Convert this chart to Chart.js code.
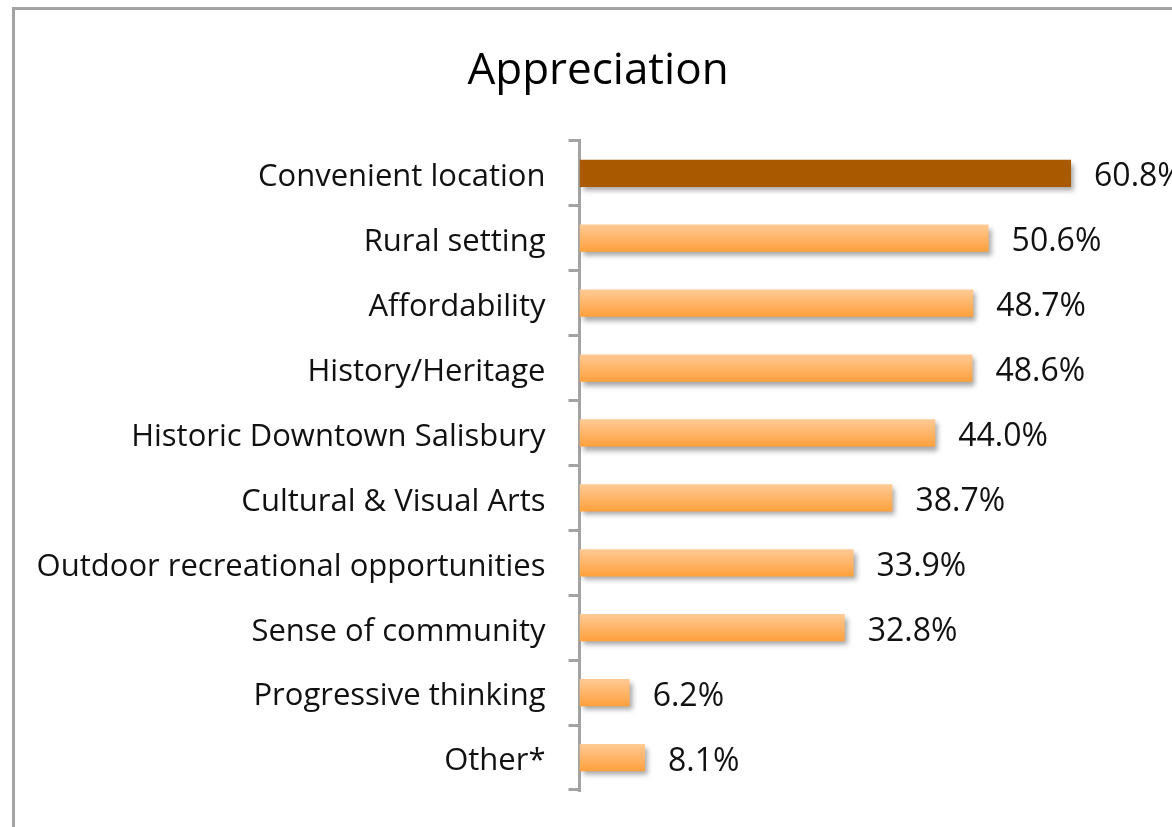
<!DOCTYPE html>
<html>
<head>
<meta charset="utf-8">
<script src="https://cdn.jsdelivr.net/npm/chart.js@4/dist/chart.umd.min.js"></script>
<style>
  html, body { margin: 0; padding: 0; background: #fff; overflow: hidden; }
  #box {
    position: absolute; left: 12px; top: 7px;
    width: 1280px; height: 880px;
    border: 3px solid #a3a3a3;
    background: #fff;
  }
</style>
</head>
<body>
<div id="box"><canvas id="myChart"></canvas></div>
<script>
// data
var categories = [
  "Convenient location",
  "Rural setting",
  "Affordability",
  "History/Heritage",
  "Historic Downtown Salisbury",
  "Cultural & Visual Arts",
  "Outdoor recreational opportunities",
  "Sense of community",
  "Progressive thinking",
  "Other*"
];
var shares = [60.8, 50.6, 48.7, 48.6, 44.0, 38.7, 33.9, 32.8, 6.2, 8.1];
var shareLabels = ["60.8%", "50.6%", "48.7%", "48.6%", "44.0%", "38.7%", "33.9%", "32.8%", "6.2%", "8.1%"];

var FONT = "'Open Sans', Lato, sans-serif";

function barFill(context) {
  var chart = context.chart;
  var y = chart.scales.y;
  if (context.dataIndex === 0) return "#a95a00";
  if (!y || !chart.chartArea) return "#ffa84a";
  var mid = y.getPixelForValue(context.dataIndex);
  var half = (y.bottom - y.top) / categories.length * 0.21;
  var g = chart.ctx.createLinearGradient(0, mid - half, 0, mid + half);
  g.addColorStop(0, "#ffca95");
  g.addColorStop(1, "#ffa03c");
  return g;
}

// soft drop shadow under bars
var barShadow = {
  id: "barShadow",
  beforeDatasetsDraw: function (chart) {
    var ctx = chart.ctx;
    ctx.save();
    ctx.shadowColor = "rgba(0,0,0,0.35)";
    ctx.shadowOffsetX = 3;
    ctx.shadowOffsetY = 4;
    ctx.shadowBlur = 5;
  },
  afterDatasetsDraw: function (chart) {
    chart.ctx.restore();
  }
};

// value labels to the right of each bar
var valueLabels = {
  id: "valueLabels",
  afterDatasetsDraw: function (chart) {
    var ctx = chart.ctx;
    var meta = chart.getDatasetMeta(0);
    ctx.save();
    ctx.font = "32px " + FONT;
    ctx.fillStyle = "#111";
    ctx.textAlign = "left";
    ctx.textBaseline = "middle";
    meta.data.forEach(function (bar, i) {
      ctx.fillText(shareLabels[i], bar.x + 23, bar.y + 4);
    });
    ctx.restore();
  }
};

var ctx = document.getElementById("myChart").getContext("2d");
var myChart = new Chart(ctx, {
  type: "bar",
  data: {
    labels: categories,
    datasets: [
      {
        label: "Appreciation",
        data: shares,
        backgroundColor: barFill,
        borderWidth: 0,
        categoryPercentage: 1,
        barPercentage: 0.42
      }
    ]
  },
  options: {
    indexAxis: "y",
    responsive: true,
    maintainAspectRatio: false,
    animation: false,
    layout: { padding: { left: 0, right: 114, top: 0, bottom: 100 } },
    plugins: {
      legend: { display: false },
      tooltip: { enabled: false },
      title: {
        display: true,
        text: "Appreciation",
        color: "#000",
        font: { family: FONT, size: 44, weight: "normal" },
        padding: { top: 35, bottom: 43 }
      }
    },
    scales: {
      x: {
        display: false,
        min: 0,
        max: 74.4
      },
      y: {
        afterFit: function (scale) { scale.width = 564.5; },
        border: { display: true, color: "#a3a3a3", width: 3 },
        grid: {
          offset: true,
          drawOnChartArea: false,
          drawTicks: true,
          tickLength: 11,
          color: "#a3a3a3",
          lineWidth: 3
        },
        ticks: {
          color: "#111",
          padding: 23,
          labelOffset: 4,
          font: { family: FONT, size: 31 }
        }
      }
    }
  },
  plugins: [barShadow, valueLabels]
});
</script>
</body>
</html>
